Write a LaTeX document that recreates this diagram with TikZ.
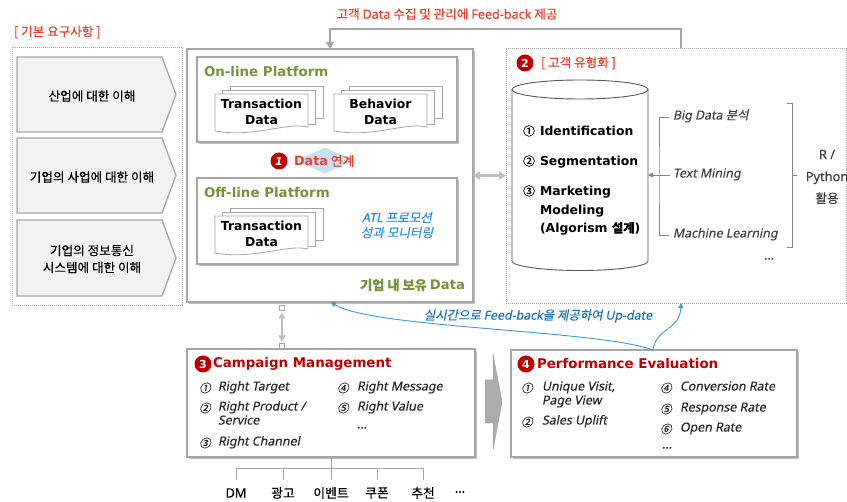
\documentclass[tikz,border=0pt]{standalone}
\usepackage{fontspec}
\setmainfont[FakeBold=0.35]{Noto Sans CJK KR}
\newfontfamily\lat[FakeBold=0.2]{Noto Sans}
\newfontfamily\lati[FakeSlant=0.2,FakeBold=0.2]{Noto Sans}
\newfontfamily\koi[FakeSlant=0.2,FakeBold=0.35]{Noto Sans CJK KR}
\newfontfamily\vbf{DejaVu Sans}
\usetikzlibrary{arrows.meta,shadows,shapes.geometric,calc}

\definecolor{tred}{HTML}{E8412C}
\definecolor{dred}{HTML}{C00000}
\definecolor{tgreen}{HTML}{76923C}
\definecolor{tblue}{HTML}{2E8FD8}
\definecolor{fbblue}{HTML}{1F73B7}
\definecolor{cblue}{HTML}{3D9AD9}
\definecolor{lblue}{HTML}{C6E0F5}
\definecolor{lgray}{HTML}{A6A6A6}
\definecolor{fgray}{HTML}{F2F2F2}
\definecolor{agray}{HTML}{BFBFBF}
\definecolor{dgray}{HTML}{595959}
\definecolor{mgray}{HTML}{404040}
\definecolor{txt}{HTML}{262626}

\tikzset{
 every node/.style={inner sep=0pt, outer sep=0pt},
 box/.style={draw=lgray, line width=1.1pt, fill=white,
   drop shadow={shadow xshift=1.6pt, shadow yshift=-1.8pt, fill=black, opacity=0.25}},
 dotbox/.style={draw=lgray, line width=0.8pt, dash pattern=on 0.9pt off 1.1pt},
 chev/.style={draw=lgray, line width=1.3pt, fill=fgray},
 page/.style={draw=lgray, line width=0.8pt, fill=white},
 doctext/.style={align=center, font=\vbf\bfseries\fontsize{12.4}{16}\selectfont, text=black},
 hd/.style={anchor=west, font=\vbf\bfseries\fontsize{13.4}{16}\selectfont},
 numc/.style={circle, fill=dred, text=white, minimum size=17pt, font=\vbf\bfseries\fontsize{11}{11}\selectfont},
 kt/.style={font=\fontsize{12.6}{17}\selectfont, text=black, align=center},
 bi/.style={anchor=west, font=\vbf\bfseries\fontsize{12.4}{15}\selectfont, text=black, text height=0.75em, text depth=0.25em},
 it/.style={anchor=west, font=\lati\fontsize{12.4}{14}\selectfont, text=txt, text height=0.75em, text depth=0.25em},
 itn/.style={font=\koi\fontsize{11.5}{14}\selectfont, text=txt},
 mt/.style={anchor=west, font=\lati\fontsize{12.4}{14}\selectfont, text=mgray, text height=0.75em, text depth=0.25em},
 brk/.style={draw=lgray!80!black, line width=0.8pt},
 garrow/.style={draw=agray, line width=2.5pt, {Triangle[length=7pt,width=8pt]}-{Triangle[length=7pt,width=8pt]}},
 fbline/.style={draw=lgray, line width=2.2pt, -{Triangle[length=7pt,width=8pt]}},
 bline/.style={draw=cblue, line width=0.9pt, -{Triangle[length=5pt,width=5pt]}},
 tline/.style={draw=lgray, line width=0.8pt},
 leaf/.style={font=\fontsize{12.8}{14}\selectfont, text=black},
 sq/.style={draw=lgray, fill=white, minimum size=5pt, line width=0.6pt}
}

\newcommand\docstack[4]{%
  \draw[page] (#2+15,#3-8) rectangle (#2+108,#3+24);
  \draw[page] (#2+7.5,#3-4) rectangle (#2+100.5,#3+30);
  \draw[page] (#2,#3) -- (#2+93,#3) -- (#2+93,#3+33) .. controls (#2+70,#3+28) and (#2+40,#3+44) .. (#2,#3+37) -- cycle;
  \node[doctext] (#1) at (#2+46.5,#3+18) {#4};
}

\begin{document}
\begin{tikzpicture}[x=1pt,y=-1pt]
\useasboundingbox (0,0) rectangle (847,502);
\fill[white] (0,0) rectangle (847,502);

% ---------- title ----------
\node[font=\fontsize{12.6}{14}\selectfont, text=tred] (ttl) at (447,14) {고객 {\lat Data} 수집 및 관리에 {\lat Feed-back} 제공};

% ---------- left requirements ----------
\node[anchor=west, font=\fontsize{12.6}{14}\selectfont, text=tred] (reqlbl) at (14,32) {[ 기본 요구사항 ]};
\node[dotbox, minimum width=170pt, minimum height=258pt] (req) at (97,176) {};
\draw[chev] (17,57) -- (162,57) -- (176,94.5) -- (162,132) -- (17,132) -- cycle;
\draw[chev] (17,138) -- (162,138) -- (176,175.5) -- (162,213) -- (17,213) -- cycle;
\draw[chev] (17,220) -- (162,220) -- (176,258) -- (162,296) -- (17,296) -- cycle;
\node[kt] (r1) at (92,96) {산업에 대한 이해};
\node[kt] (r2) at (92,177) {기업의 사업에 대한 이해};
\node[kt] (r3) at (92,259) {기업의 정보통신\\시스템에 대한 이해};

% ---------- core data ----------
\node[box, minimum width=286pt, minimum height=253pt] (core) at (330,175.5) {};
\node[box, minimum width=260pt, minimum height=85pt] (on) at (327,99.5) {};
\node[hd, text=tgreen] (ont) at (204,72) {On-line Platform};
\docstack{tdon}{215}{94}{Transaction\\Data}
\docstack{bdon}{334}{94}{Behavior\\Data}
\node[diamond, fill=lblue, minimum width=58pt, minimum height=26pt] (lk) at (325,160.5) {};
\node[numc] (n1) at (279,161) {\itshape 1};
\node[anchor=west, text=tred, font=\fontsize{12.8}{14}\selectfont] (lkt) at (294,161) {{\vbf\bfseries Data} 연계};
\node[box, minimum width=260pt, minimum height=86pt] (off) at (327,221) {};
\node[hd, text=tgreen] (offt) at (204,193) {Off-line Platform};
\docstack{tdoff}{215}{216}{Transaction\\Data}
\node[align=center, text=tblue, font=\koi\fontsize{12.6}{15}\selectfont] (atl) at (397,225) {{\lati ATL} 프로모션\\성과 모니터링};
\node[anchor=east, text=tgreen, font=\bfseries\fontsize{13.2}{15}\selectfont] (own) at (465,285) {기업 내 보유 {\vbf Data}};

% ---------- right: customer typing ----------
\node[dotbox, minimum width=340pt, minimum height=255pt] (rb) at (676,175.5) {};
\node[numc] (n2) at (525,63) {2};
\node[anchor=west, text=tred, font=\fontsize{12.6}{14}\selectfont] (cust) at (541,63) {[ 고객 유형화 ]};
\draw[draw=dgray, line width=0.9pt, fill=white] (512,89.5) -- (512,261) arc[start angle=180, end angle=360, x radius=68pt, y radius=9.5pt] -- (648,89.5);
\draw[draw=dgray, line width=0.9pt, fill=white] (580,89.5) ellipse [x radius=68pt, y radius=9.5pt];
\node[minimum width=136pt, minimum height=180pt] (cyl) at (580,175) {};
\node[bi] (ci1) at (523,133) {\makebox[17pt][l]{\normalfont\fontsize{12}{12}\selectfont ①}Identification};
\node[bi] (ci2) at (523,163) {\makebox[17pt][l]{\normalfont\fontsize{12}{12}\selectfont ②}Segmentation};
\node[bi] (ci3) at (523,193) {\makebox[17pt][l]{\normalfont\fontsize{12}{12}\selectfont ③}Marketing};
\node[bi] (ci3b) at (540,212) {Modeling};
\node[bi] (ci3c) at (540,230) {(Algorism {\normalfont\bfseries 설계})};

\node[mt] (bd) at (673,117) {Big Data {\koi 분석}};
\node[mt] (tm) at (673,175) {Text Mining};
\node[mt] (ml) at (673,235) {Machine Learning};
\node[mt] (dots1) at (764,257) {...};
\draw[brk] ([xshift=-4pt]bd.west) -| ([xshift=-14pt]tm.west) |- ([xshift=-4pt]ml.west);
\draw[brk, -{Triangle[length=5pt,width=5pt]}] ([xshift=-3pt]tm.west) -- (cyl.east |- tm.west);
\node[align=center, font=\fontsize{12.8}{22}\selectfont, text=mgray] (rp) at (827,177) {{\lat R /}\\{\lat Python}\\활용};
\draw[brk] (787,103) -- (792,103) -- (792,247) -- (787,247);
\draw[brk] (792,175) -- (797,175);

% ---------- connectors between blocks ----------
\draw[garrow] (core.east) -- (rb.west);
\draw[fbline] ([xshift=5pt]rb.north) -- ++(0,-19) -| (core.north);

\node[sq] (sq1) at (282,308) {};
\node[sq] (sq2) at (282,346) {};
\draw[draw=agray, line width=2pt, {Triangle[length=6pt,width=7pt]}-{Triangle[length=6pt,width=7pt]}] ([yshift=-2pt]sq1.south) -- ([yshift=2pt]sq2.north);

% ---------- campaign management ----------
\node[box, minimum width=288pt, minimum height=108pt] (camp) at (331,403) {};
\node[numc] (n3) at (203,364) {3};
\node[hd, text=dred] (campt) at (213,364) {Campaign Management};
\node[itn] (cn1) at (205,388) {①};
\node[it] (ct1) at (218,388) {Right Target};
\node[itn] (cn2) at (205,408) {②};
\node[it] (ct2) at (218,408) {Right Product /};
\node[it] (ct2b) at (218,422) {Service};
\node[itn] (cn3) at (205,443) {③};
\node[it] (ct3) at (218,443) {Right Channel};
\node[itn] (cn4) at (343,388) {④};
\node[it] (ct4) at (357,388) {Right Message};
\node[itn] (cn5) at (343,408) {⑤};
\node[it] (ct5) at (357,408) {Right Value};
\node[it] (ct6) at (357,426) {...};

% big gray arrow
\draw[draw=lgray, fill=agray!90!black, line width=0.5pt] (485,380) -- (493,380) -- (493,354) -- (502,402) -- (493,450) -- (493,423) -- (485,423) -- cycle;

% ---------- performance evaluation ----------
\node[box, minimum width=286pt, minimum height=107pt] (perf) at (654,403.5) {};
\node[numc] (n4) at (526,364) {4};
\node[hd, text=dred] (perft) at (537,364) {Performance Evaluation};
\node[itn] (pn1) at (527,388) {①};
\node[it] (pt1) at (542,388) {Unique Visit,};
\node[it] (pt1b) at (542,402) {Page View};
\node[itn] (pn2) at (527,422) {②};
\node[it] (pt2) at (542,422) {Sales Uplift};
\node[itn] (pn4) at (666,388) {④};
\node[it] (pt4) at (680,388) {Conversion Rate};
\node[itn] (pn5) at (666,409) {⑤};
\node[it] (pt5) at (680,409) {Response Rate};
\node[itn] (pn6) at (666,429) {⑥};
\node[it] (pt6) at (680,429) {Open Rate};
\node[it] (pt7) at (662,446) {...};

% ---------- realtime feedback ----------
\draw[bline] ([xshift=-1pt]perf.north) .. controls (656,328) and (680,330) .. ([xshift=5pt]rb.south);
\draw[bline] ([xshift=-1pt]perf.north) .. controls (600,330) and (370,328) .. ([xshift=1pt]core.south);
\node[text=fbblue, font=\koi\fontsize{12.4}{14}\selectfont] (upd) at (538,316) {실시간으로 {\lati Feed-back}을 제공하여 {\lati Up-date}};

% ---------- channels ----------
\draw[tline] (camp.south) -- ++(0,11) coordinate (hub);
\coordinate (leafy) at (0,480);
\node[leaf] (l1) at (236,493) {\lat DM};
\node[leaf] (l2) at (283,493) {광고};
\node[leaf] (l3) at (331,493) {이벤트};
\node[leaf] (l4) at (377,493) {쿠폰};
\node[leaf] (l5) at (423,493) {추천};
\node[leaf] (l6) at (460,492) {\lat ...};
\draw[tline] (hub -| l1) -- (hub -| l5);
\foreach \n in {l1,l2,l3,l4,l5} \draw[tline] (hub -| \n) -- (leafy -| \n);

\end{tikzpicture}
\end{document}
